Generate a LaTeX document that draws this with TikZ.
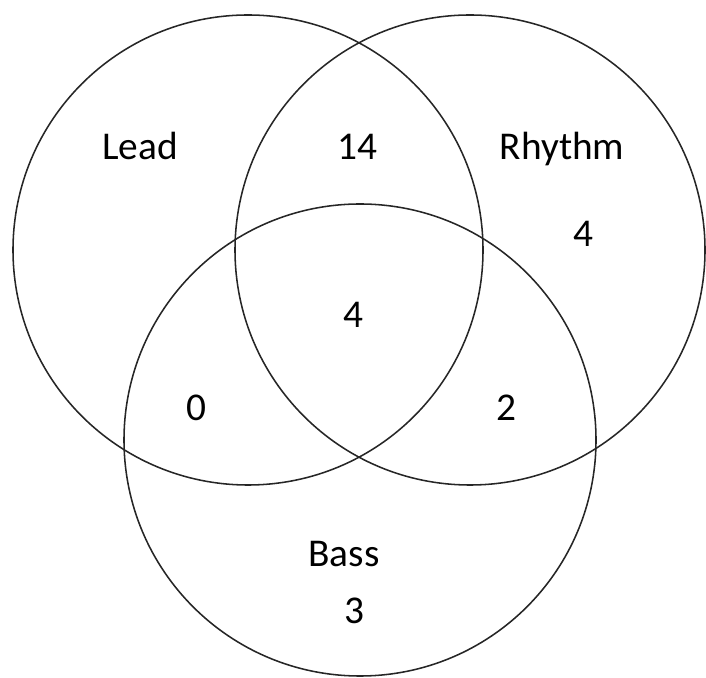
\documentclass[tikz,border=0pt]{standalone}
\usepackage{fontspec}
\setmainfont{Carlito}
\usepackage{tikz}
\usetikzlibrary{positioning}
\tikzset{
set/.style={circle, draw=black!85, line width=1.1pt, inner sep=0pt, minimum size=11.75cm}, % one circle of the diagram
lbl/.style={anchor=base, inner sep=0pt, font=\fontsize{28}{34}\selectfont}, % texts and counts
}

\begin{document}
\begin{tikzpicture}
        \useasboundingbox (0,0) rectangle (17.65,16.925);

        \node[set] (lead) at (6.2,10.675) {};
        \node[set] (rhythm) at (11.75,10.675) {};
        \node[set, minimum size=11.8cm] (bass) at (9.0,5.925) {};

        \node[lbl] (leadname) at (3.5,12.925) {Lead};
        \node[lbl] (rhythmname) at (14.05,12.925) {Rhythm};
        \node[lbl] (bassname) at (8.6,2.75) {Bass};

        \node[lbl] (lr) at (8.925,12.925) {14};
        \node[lbl] (ronly) at (14.575,10.75) {4};
        \node[lbl] (all) at (8.825,8.725) {4};
        \node[lbl] (lb) at (4.9,6.4) {0};
        \node[lbl] (rb) at (12.65,6.4) {2};
        \node[lbl] (bonly) at (8.85,1.35) {3};
      \end{tikzpicture}
\end{document}
